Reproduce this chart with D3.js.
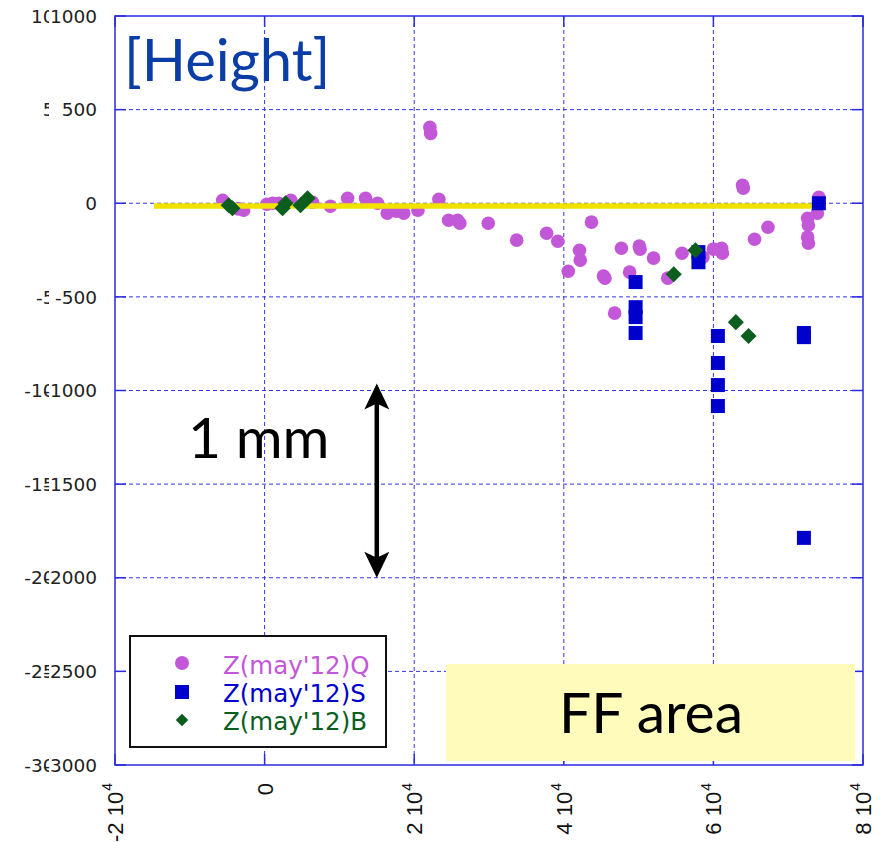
<!DOCTYPE html>
<html>
<head>
<meta charset="utf-8">
<script src="https://cdn.jsdelivr.net/npm/d3@7"></script>
<style>
  body { margin: 0; background: #fff; }
  svg { display: block; }
</style>
</head>
<body>
<svg width="886" height="842"></svg>
<script>
// Z(may'12)Q  [x, height]
var seriesQ = [
  [-5600, 16], [-3500, -30], [-2800, -37], [300, -5], [1100, 0], [1900, 0],
  [3500, 16], [6400, 5], [8800, -16], [11100, 27], [13500, 27], [15100, 0],
  [16400, -53], [17600, -43], [18600, -53], [20500, -37], [22100, 405], [22200, 373],
  [23300, 21], [24600, -91], [25800, -91], [26100, -107], [29900, -107], [33700, -197],
  [37700, -160], [39200, -203], [40600, -363], [42100, -251], [42200, -304], [43700, -101],
  [45300, -389], [45500, -400], [46800, -587], [47700, -240], [48800, -368], [50100, -229],
  [50200, -245], [52000, -293], [53900, -400], [55800, -267], [58600, -288], [60000, -245],
  [61100, -240], [61200, -267], [63900, 96], [64000, 80], [65500, -192], [67300, -128],
  [72600, -80], [72700, -117], [72600, -181], [72700, -213], [73900, -53], [74100, 32]
];
// Z(may'12)S
var seriesS = [
  [49600, -421], [49600, -555], [49600, -608], [49600, -693],
  [58000, -261], [58000, -315],
  [60600, -709], [60600, -853], [60600, -971], [60600, -1083],
  [72100, -693], [72100, -715], [72100, -1787], [74100, 0]
];
// Z(may'12)B
var seriesB = [
  [-4800, -11], [-4300, -27], [2400, -27], [2800, 0], [4800, -11], [5750, 27],
  [54700, -379], [57600, -251], [63000, -635], [64700, -709]
];
var refLine = [[-14800, -15], [73300, -15]];
var xTicks = [-20000, 0, 20000, 40000, 60000, 80000];
var yTicks = [1000, 500, 0, -500, -1000, -1500, -2000, -2500, -3000];
var legendNames = ["Z(may'12)Q", "Z(may'12)S", "Z(may'12)B"];
var colors = ["#c257d8", "#0000cc", "#0b5e1e"];

var svg = d3.select("svg");
var x = d3.scaleLinear().domain([-20000, 80000]).range([115, 863]);
var y = d3.scaleLinear().domain([-3000, 1000]).range([765, 16]);

// grid
var grid = svg.append("g").attr("stroke", "#3434e2").attr("stroke-dasharray", "4,3").attr("stroke-width", 1);
grid.selectAll(".gx").data(xTicks.slice(1, -1)).enter().append("line")
  .attr("x1", function (d) { return x(d); }).attr("x2", function (d) { return x(d); })
  .attr("y1", y(1000)).attr("y2", y(-3000));
grid.selectAll(".gy").data(yTicks.slice(1, -1)).enter().append("line")
  .attr("x1", x(-20000)).attr("x2", x(80000))
  .attr("y1", function (d) { return y(d); }).attr("y2", function (d) { return y(d); });

// frame and inward ticks
svg.append("rect").attr("x", x(-20000)).attr("y", y(1000))
  .attr("width", x(80000) - x(-20000)).attr("height", y(-3000) - y(1000))
  .attr("fill", "none").attr("stroke", "#2a2ae0").attr("stroke-width", 1.5);
var ticks = svg.append("g").attr("stroke", "#2a2ae0").attr("stroke-width", 1.5);
yTicks.forEach(function (v) {
  ticks.append("line").attr("x1", x(-20000)).attr("x2", x(-20000) + 11).attr("y1", y(v)).attr("y2", y(v));
  ticks.append("line").attr("x1", x(80000)).attr("x2", x(80000) - 11).attr("y1", y(v)).attr("y2", y(v));
});
xTicks.forEach(function (v) {
  ticks.append("line").attr("x1", x(v)).attr("x2", x(v)).attr("y1", y(-3000)).attr("y2", y(-3000) - 11);
  ticks.append("line").attr("x1", x(v)).attr("x2", x(v)).attr("y1", y(1000)).attr("y2", y(1000) + 11);
});

// y labels: a hidden-behind layer and a front layer, as in the original
var yl = svg.append("g").attr("font-family", "DejaVu Sans").attr("font-size", 18.5).attr("fill", "#222");
yl.selectAll(".back").data(yTicks).enter().append("text")
  .attr("x", 78).attr("y", function (d) { return y(d); }).attr("dy", "0.36em")
  .attr("text-anchor", "end").text(function (d) { return d; });
yl.selectAll(".mask").data(yTicks).enter().append("rect")
  .attr("x", 49).attr("y", function (d) { return y(d) - 11; })
  .attr("width", 50).attr("height", 22).attr("fill", "#fff");
yl.selectAll(".front").data(yTicks).enter().append("text")
  .attr("x", 97).attr("y", function (d) { return y(d); }).attr("dy", "0.36em")
  .attr("text-anchor", "end").text(function (d) { return d; });

// x labels, rotated
var xl = svg.append("g").attr("font-family", "Liberation Sans").attr("font-size", 22).attr("fill", "#111");
xTicks.forEach(function (v) {
  var t = xl.append("text")
    .attr("transform", "translate(" + x(v) + ",783) rotate(-90)")
    .attr("dy", "0.36em").attr("text-anchor", "end");
  if (v === 0) {
    t.text("0");
  } else {
    t.append("tspan").text((v / 10000) + " 10");
    t.append("tspan").attr("font-size", 14).attr("dy", "-0.75em").attr("dx", 1).text("4");
  }
});

// points
svg.append("g").selectAll("circle").data(seriesQ).enter().append("circle")
  .attr("cx", function (d) { return x(d[0]); }).attr("cy", function (d) { return y(d[1]); })
  .attr("r", 6.8).attr("fill", colors[0]);

svg.append("path").datum(refLine)
  .attr("d", d3.line().x(function (d) { return x(d[0]); }).y(function (d) { return y(d[1]); }))
  .attr("stroke", "#f2e200").attr("stroke-width", 5.5).attr("fill", "none");

svg.append("g").selectAll("rect").data(seriesS).enter().append("rect")
  .attr("x", function (d) { return x(d[0]) - 7; }).attr("y", function (d) { return y(d[1]) - 7; })
  .attr("width", 14).attr("height", 14).attr("fill", colors[1]);

var diamond = d3.symbol().type(d3.symbolDiamond2).size(165);
svg.append("g").selectAll("path").data(seriesB).enter().append("path")
  .attr("transform", function (d) { return "translate(" + x(d[0]) + "," + y(d[1]) + ")"; })
  .attr("d", diamond).attr("fill", colors[2]);

// title
svg.append("text").attr("x", 124).attr("y", 81)
  .attr("font-family", "Lato").attr("font-size", 58).attr("fill", "#0a3ea6")
  .text("[Height]");

// 1 mm annotation with double arrow
svg.append("text").attr("x", 188).attr("y", 458)
  .attr("font-family", "Lato").attr("font-size", 57).attr("fill", "#000")
  .text("1 mm");
var ax = x(15000), aTop = y(-1000) - 7, aBot = y(-2000);
svg.append("line").attr("x1", ax).attr("x2", ax).attr("y1", aTop + 15).attr("y2", aBot - 15)
  .attr("stroke", "#000").attr("stroke-width", 4.5);
svg.append("path").attr("d", "M" + ax + "," + aTop + "l-12.5,26l12.5,-6l12.5,6z").attr("fill", "#000");
svg.append("path").attr("d", "M" + ax + "," + aBot + "l-12.5,-26l12.5,6l12.5,-6z").attr("fill", "#000");

// legend
var lg = svg.append("g");
lg.append("rect").attr("x", 130).attr("y", 636).attr("width", 256).attr("height", 111)
  .attr("fill", "#fff").attr("stroke", "#111").attr("stroke-width", 2);
lg.append("circle").attr("cx", 182).attr("cy", 663).attr("r", 7).attr("fill", colors[0]);
lg.append("rect").attr("x", 175).attr("y", 685).attr("width", 14).attr("height", 14).attr("fill", colors[1]);
lg.append("path").attr("transform", "translate(182,720)").attr("d", d3.symbol().type(d3.symbolDiamond2).size(100)).attr("fill", colors[2]);
legendNames.forEach(function (n, i) {
  lg.append("text").attr("x", 223).attr("y", 674 + i * 28)
    .attr("font-family", "DejaVu Sans").attr("font-size", 24.5).attr("fill", colors[i])
    .text(n);
});

// FF area box
svg.append("rect").attr("x", 446).attr("y", 664).attr("width", 409).attr("height", 97).attr("fill", "#fffbbb");
svg.append("text").attr("x", 651).attr("y", 733).attr("text-anchor", "middle")
  .attr("font-family", "Lato").attr("font-size", 57).attr("fill", "#000")
  .text("FF area");
</script>
</body>
</html>
